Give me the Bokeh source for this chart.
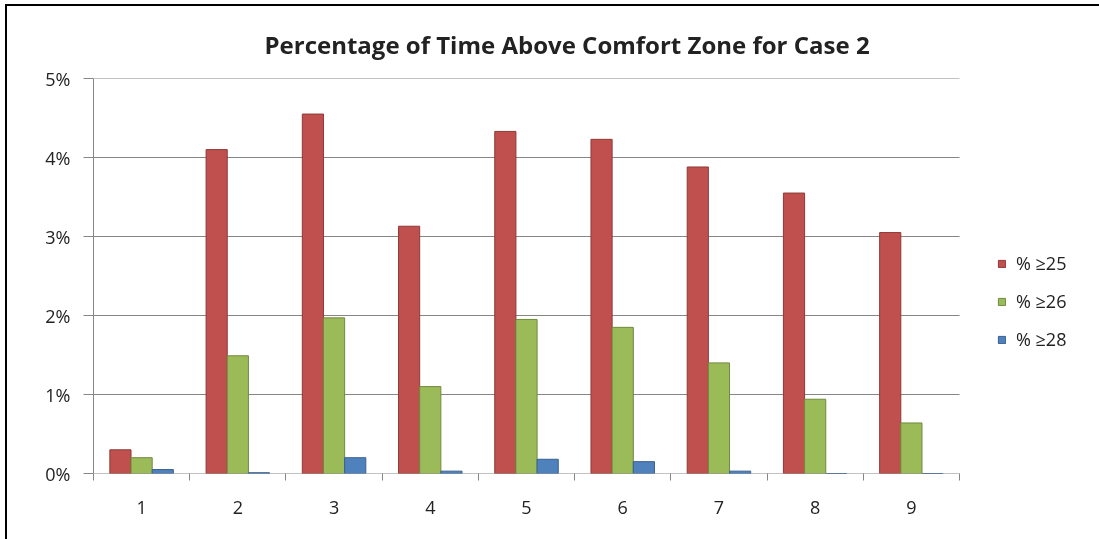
from bokeh.plotting import figure
from bokeh.layouts import column
from bokeh.models import ColumnDataSource, FixedTicker, PrintfTickFormatter, Legend, LegendItem
from bokeh.transform import dodge
from bokeh.embed import file_html
from bokeh.resources import INLINE

categories = [1, 2, 3, 4, 5, 6, 7, 8, 9]
pct_ge25 = [0.30, 4.10, 4.55, 3.13, 4.33, 4.23, 3.88, 3.55, 3.05]
pct_ge26 = [0.20, 1.49, 1.97, 1.10, 1.95, 1.85, 1.40, 0.94, 0.64]
pct_ge28 = [0.05, 0.01, 0.20, 0.03, 0.18, 0.15, 0.03, 0.00, 0.00]
series_names = ["% \u226525", "% \u226526", "% \u226528"]
y_ticks = [0, 1, 2, 3, 4, 5]
title_text = "Percentage of Time Above Comfort Zone for Case 2"

FONT = "Open Sans"
TXT = "#222222"
GRID = "#868686"

x_lo, x_hi = categories[0] - 0.5, categories[-1] + 0.5
FW = 999          # frame width (includes room on the right for the legend)
BAR_AREA = 866    # pixels used by the nine category slots
x_end = x_lo + (x_hi - x_lo) * FW / BAR_AREA

src = ColumnDataSource(dict(x=categories, a=pct_ge25, b=pct_ge26, c=pct_ge28))
grid_src = ColumnDataSource(dict(y=y_ticks, x0=[x_lo] * len(y_ticks), x1=[x_hi] * len(y_ticks)))

p = figure(frame_width=FW, frame_height=395, x_range=(x_lo, x_end), y_range=(0, 5),
           output_backend="svg", toolbar_location=None,
           min_border_left=86, min_border_right=20, min_border_top=72, min_border_bottom=72)
p.outline_line_color = None
p.background_fill_color = "white"
p.border_fill_color = "white"

p.title.text = title_text
p.title.align = "left"
p.title.offset = 171
p.title.vertical_align = "middle"
p.title.text_font = FONT
p.title.text_font_size = "24px"
p.title.text_font_style = "bold"
p.title.text_color = TXT
p.title.standoff = 34

# horizontal gridlines limited to the category area
p.segment(x0="x0", x1="x1", y0="y", y1="y", source=grid_src, line_color=GRID, line_width=1)

w = 0.22
colors = ["#C0504D", "#9BBB59", "#4F81BD"]
lines = ["#8E3A38", "#71893F", "#3A6090"]
renderers = []
for key, off, col, lc in zip(["a", "b", "c"], [-w, 0, w], colors, lines):
    r = p.vbar(x=dodge("x", off), top=key, width=w, source=src,
               fill_color=col, line_color=lc, line_width=1)
    renderers.append(r)

# axes
p.xaxis.ticker = FixedTicker(ticks=categories, minor_ticks=[c + 0.5 for c in [categories[0] - 1] + categories])
p.xaxis.major_tick_out = 0
p.xaxis.major_tick_in = 0
p.xaxis.minor_tick_out = 7
p.xaxis.minor_tick_in = 0
p.xaxis.minor_tick_line_color = GRID
p.xaxis.axis_line_color = None
p.xaxis.major_label_standoff = 20
p.xaxis.major_label_text_font = FONT
p.xaxis.major_label_text_font_size = "18px"
p.xaxis.major_label_text_color = TXT

p.yaxis.ticker = FixedTicker(ticks=y_ticks)
p.yaxis.formatter = PrintfTickFormatter(format="%d%%")
p.yaxis.major_tick_out = 10
p.yaxis.major_tick_in = 0
p.yaxis.minor_tick_line_color = None
p.yaxis.axis_line_color = GRID
p.yaxis.major_tick_line_color = GRID
p.yaxis.major_label_standoff = 13
p.yaxis.major_label_text_font = FONT
p.yaxis.major_label_text_font_size = "18px"
p.yaxis.major_label_text_color = TXT

p.xgrid.grid_line_color = None
p.ygrid.grid_line_color = None

legend = Legend(items=[LegendItem(label=nm, renderers=[r]) for nm, r in zip(series_names, renderers)],
                location=(904, 122), orientation="vertical",
                glyph_width=9, glyph_height=9, label_height=20, spacing=14,
                label_standoff=10, padding=0, margin=0,
                border_line_color=None, background_fill_alpha=0,
                label_text_font=FONT, label_text_font_size="18px", label_text_color=TXT)
p.add_layout(legend, "center")

layout = column(p, styles={"position": "fixed", "left": "5px", "top": "4px",
                           "border-left": "2px solid black", "border-top": "2px solid black"})

open("out.html", "w").write(file_html(layout, INLINE))
